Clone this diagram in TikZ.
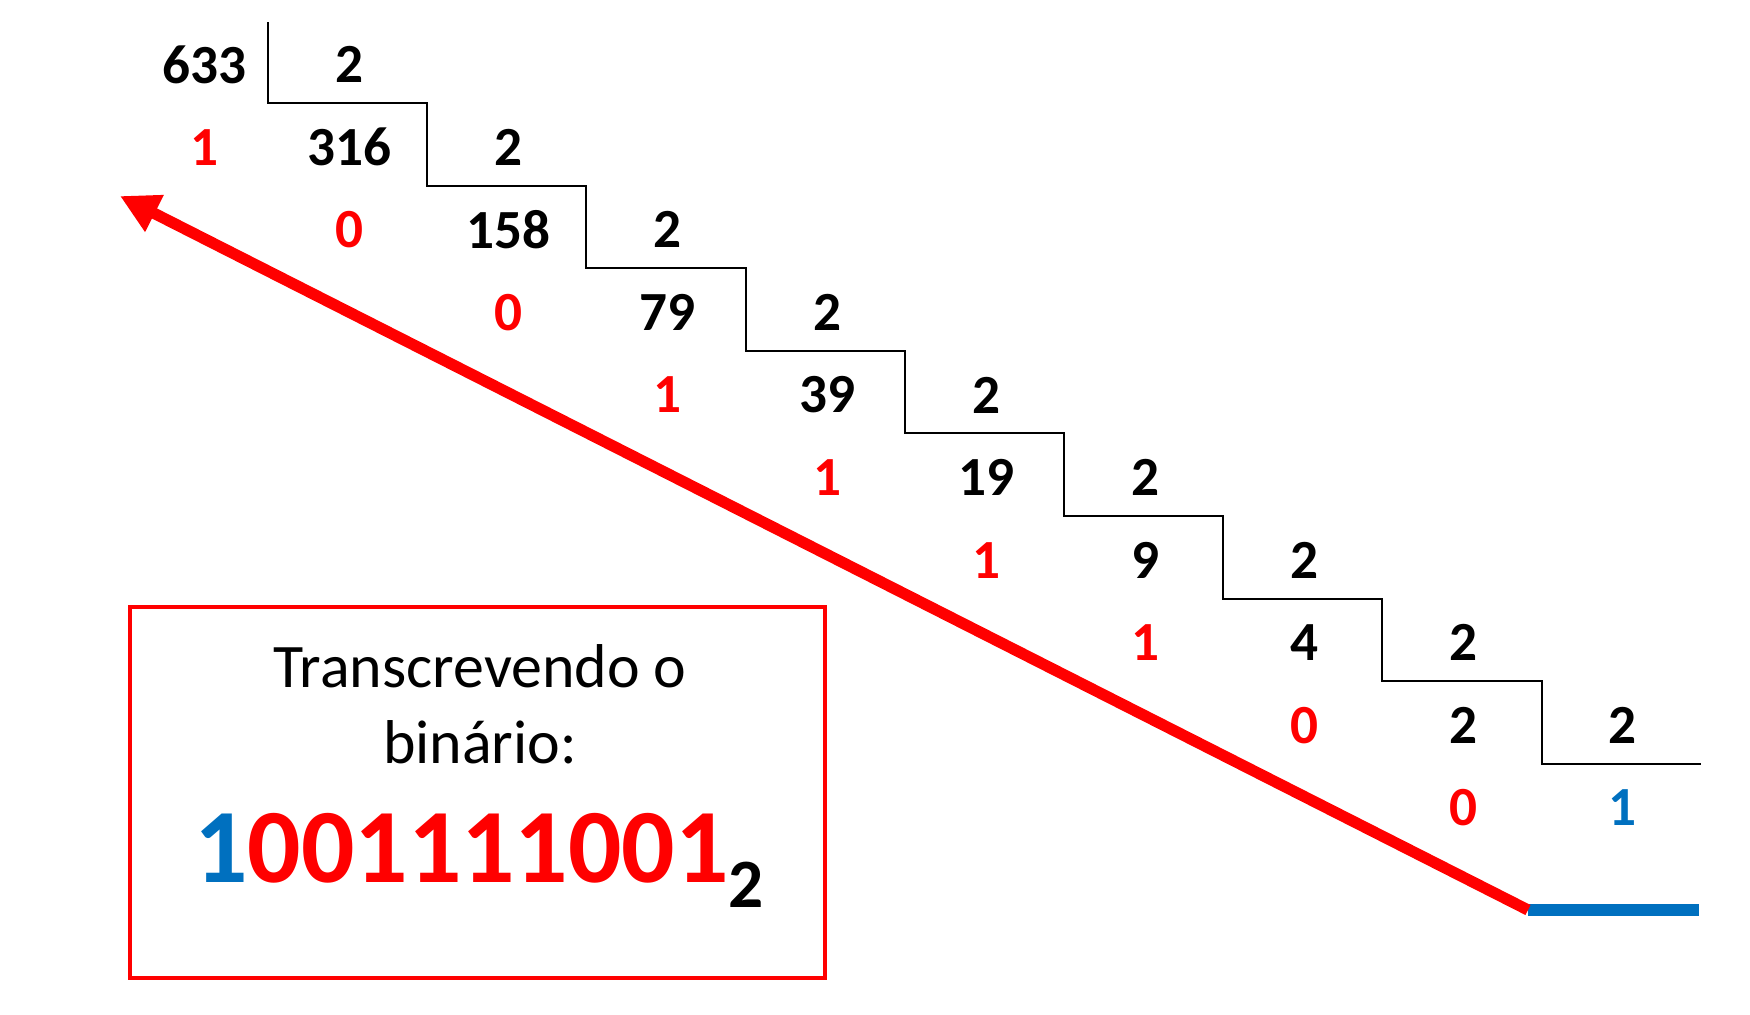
\documentclass[tikz,border=0pt]{standalone}
\usepackage{fontspec}
\setmainfont{Carlito}
\usepackage{tikz}
\definecolor{rd}{rgb}{1,0,0}
\definecolor{blu}{rgb}{0,0.44,0.75}
\usetikzlibrary{calc,positioning,arrows.meta}

\begin{document}
\begin{tikzpicture}[x=0.01cm,y=-0.01cm,
  dig/.style={inner sep=0pt,font=\fontsize{15.7}{18}\selectfont\bfseries},
  rdig/.style={dig,text=rd},
  bdig/.style={dig,text=blu}]
\useasboundingbox (0,0) rectangle (1750,1015);
%\draw[step=100,gray,very thin] (0,0) grid (1750,1015);
% stairs
\draw [line width=0.6pt] (268,22) -- (268,103) -- (427.2,103) -- (427.2,185.6)
  -- (586.4,185.6) -- (586.4,268.2) -- (745.6,268.2) -- (745.6,350.8)
  -- (904.8,350.8) -- (904.8,433.4) -- (1064,433.4) -- (1064,516)
  -- (1223.2,516) -- (1223.2,598.6) -- (1382.4,598.6) -- (1382.4,681.2)
  -- (1541.6,681.2) -- (1541.6,763.8) -- (1701,763.8);

\node[dig] (n633) at (204,64.5) {633};
\node[dig] (d0) at (349,64.5) {2};

\node[rdig] (r1) at (204,147.1) {1};
\node[dig] (q316) at (349,147.1) {316};
\node[dig] (d1) at (508,147.1) {2};

\node[rdig] (r2) at (349,229.7) {0};
\node[dig] (q158) at (508,229.7) {158};
\node[dig] (d2) at (667,229.7) {2};

\node[rdig] (r3) at (508,312.3) {0};
\node[dig] (q79) at (667,312.3) {79};
\node[dig] (d3) at (827,312.3) {2};

\node[rdig] (r4) at (667,394.9) {1};
\node[dig] (q39) at (827,394.9) {39};
\node[dig] (d4) at (986,394.9) {2};

\node[rdig] (r5) at (827,477.5) {1};
\node[dig] (q19) at (986,477.5) {19};
\node[dig] (d5) at (1145,477.5) {2};

\node[rdig] (r6) at (986,560.1) {1};
\node[dig] (q9) at (1145,560.1) {9};
\node[dig] (d6) at (1304,560.1) {2};

\node[rdig] (r7) at (1145,642.7) {1};
\node[dig] (q4) at (1304,642.7) {4};
\node[dig] (d7) at (1463,642.7) {2};

\node[rdig] (r8) at (1304,725.3) {0};
\node[dig] (q2) at (1463,725.3) {2};
\node[dig] (d8) at (1622,725.3) {2};

\node[rdig] (r9) at (1463,807.9) {0};
\node[bdig] (q1) at (1622,807.9) {1}; % last quotient

% reading arrow
\coordinate (tl) at (1528,910);
\coordinate (hd) at (120,196);
\coordinate (bl) at (1699,910);
\draw [blu, line width=3.2pt] (tl) -- (bl);
\draw [rd, line width=3.2pt, -{Triangle[length=11pt,width=11pt]}] (tl) -- (hd);

% result box
\node[draw=rd, line width=1.2pt, minimum width=6.95cm, minimum height=3.71cm] (box) at (477.5,792.5) {};
\node[anchor=base, inner sep=0pt, font=\fontsize{17.6}{21}\selectfont] (tr1) at (480,687) {Transcrevendo o};
\node[anchor=base, inner sep=0pt, font=\fontsize{17.6}{21}\selectfont] (tr2) at (480,763) {binário:};
\node[anchor=base, inner sep=0pt, font=\fontsize{30}{32}\selectfont\bfseries] (bin) at (479,882)
  {{\color{blu}1}{\color{rd}001111001}{\fontsize{19.7}{20}\selectfont\raisebox{-0.25cm}{2}}};
\end{tikzpicture}
\end{document}
